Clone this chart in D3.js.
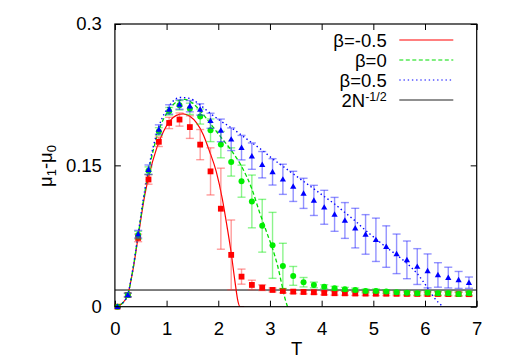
<!DOCTYPE html>
<html><head><meta charset="utf-8">
<script src="https://cdn.jsdelivr.net/npm/d3@7"></script>
<style>
html,body{margin:0;padding:0;background:#fff;}
text{font-family:"Liberation Sans",Arial,sans-serif;}
</style></head>
<body>
<svg id="chart" width="507" height="363"></svg>
<script>
// ---- data ----
const temps = [0.05,0.25,0.45,0.65,0.85,1.05,1.25,1.45,1.65,1.85,2.05,2.25,2.45,2.65,2.85,3.05,3.25,3.45,3.65,3.85,4.05,4.25,4.45,4.65,4.85,5.05,5.25,5.45,5.65,5.85,6.05,6.25,6.45,6.65,6.85];

const redVals = [0,0.0124,0.073,0.135,0.175,0.195,0.1986,0.1906,0.172,0.1436,0.104,0.055,0.0319,0.0231,0.0202,0.0178,0.0167,0.016,0.0156,0.0153,0.0146,0.0143,0.0142,0.0140,0.0139,0.0138,0.0138,0.0137,0.0136,0.0136,0.0135,0.0135,0.0134,0.0134,0.0133];
const redErr = [0,0.002,0.004,0.005,0.005,0.006,0.007,0.012,0.016,0.025,0.043,0.037,0.008,0.005,0.003,0.002,0.002,0.002,0.002,0.002,0.002,0.002,0.002,0.002,0.002,0.002,0.002,0.002,0.002,0.002,0.002,0.002,0.002,0.002,0.002];

const greenVals = [0,0.0124,0.076,0.1444,0.186,0.2074,0.2138,0.210,0.2018,0.1872,0.172,0.1536,0.1332,0.1117,0.0859,0.0651,0.0433,0.0327,0.026,0.0231,0.0213,0.0196,0.0185,0.0178,0.0167,0.0167,0.016,0.0153,0.0149,0.0143,0.0149,0.0143,0.0143,0.0135,0.0143];
const greenErr = [0,0.002,0.004,0.004,0.004,0.004,0.005,0.006,0.008,0.012,0.014,0.015,0.017,0.028,0.028,0.035,0.024,0.010,0.005,0.003,0.002,0.002,0.002,0.002,0.002,0.002,0.002,0.002,0.002,0.002,0.002,0.002,0.002,0.002,0.002];

const blueVals = [0,0.0124,0.077,0.1454,0.188,0.2093,0.2146,0.2128,0.2093,0.1973,0.1871,0.1777,0.1688,0.1598,0.1507,0.1431,0.1352,0.1277,0.1203,0.1128,0.1055,0.098,0.0915,0.0834,0.0767,0.071,0.0638,0.0561,0.0497,0.0426,0.038,0.0337,0.0309,0.0284,0.0255];
const blueErr = [0,0.002,0.004,0.005,0.005,0.005,0.005,0.006,0.006,0.008,0.012,0.012,0.013,0.014,0.014,0.014,0.016,0.016,0.016,0.016,0.018,0.018,0.019,0.021,0.021,0.023,0.022,0.021,0.020,0.019,0.018,0.013,0.011,0.009,0.006];

// fitted curves
const redFitT = [0,0.1,0.15,0.25,0.35,0.45,0.58,0.65,0.81,0.94,1.06,1.19,1.32,1.45,1.58,1.71,1.83,1.96,2.08,2.17,2.25,2.32,2.38,2.42,2.5];
const redFitV = [0,0.002,0.004,0.013,0.039,0.074,0.119,0.137,0.1685,0.186,0.197,0.203,0.2046,0.202,0.195,0.1826,0.165,0.1436,0.114,0.085,0.057,0.028,0.006,0,0];

const greenFitT = [0,0.1,0.15,0.25,0.35,0.45,0.55,0.65,0.85,1.05,1.25,1.35,1.45,1.65,1.85,2.05,2.25,2.45,2.65,2.8,2.93,3.06,3.15,3.22,3.28,3.34];
const greenFitV = [0,0.002,0.004,0.013,0.040,0.076,0.112,0.143,0.187,0.209,0.219,0.220,0.218,0.208,0.194,0.180,0.166,0.149,0.125,0.100,0.080,0.060,0.043,0.026,0.011,0];

const blueFitT = [0,0.1,0.15,0.25,0.35,0.45,0.55,0.65,0.85,1.05,1.25,1.45,1.65,1.85,2.05,2.25,2.45,2.65,2.85,3.05,3.25,3.45,3.65,3.85,4.05,4.25,4.45,4.65,4.85,5.05,5.25,5.45,5.65,5.85,6.05,6.2,6.35];
const blueFitV = [0,0.002,0.004,0.013,0.041,0.077,0.114,0.146,0.191,0.213,0.222,0.221,0.214,0.205,0.197,0.190,0.182,0.174,0.166,0.157,0.149,0.141,0.133,0.125,0.117,0.109,0.100,0.091,0.081,0.072,0.063,0.055,0.046,0.035,0.020,0.008,0];

const limitValue = 0.0177; // 2N^-1/2

const xTicks = [0,1,2,3,4,5,6,7];
const yTicks = [0,0.15,0.3];
const legendLabels = ["β=-0.5","β=0","β=0.5","2N"];

// ---- layout ----
const svg = d3.select("#chart");
const L = 114.9, R = 476.7, T0 = 24, B = 306.7;
const x = d3.scaleLinear().domain([0,7]).range([L,R]);
const y = d3.scaleLinear().domain([0,0.3]).range([B,T0]);

svg.append("defs").append("clipPath").attr("id","clip")
  .append("rect").attr("x",L).attr("y",T0).attr("width",R-L).attr("height",B-T0);

const fontSize = 18.5;
// axes
const gx = svg.append("g").attr("transform",`translate(0,${B})`)
  .call(d3.axisBottom(x).tickValues(xTicks).tickSize(-6).tickPadding(15).tickFormat(d3.format("d")));
const gxt = svg.append("g").attr("transform",`translate(0,${T0})`)
  .call(d3.axisTop(x).tickValues(xTicks).tickSize(-6).tickFormat(""));
const gy = svg.append("g").attr("transform",`translate(${L},0)`)
  .call(d3.axisLeft(y).tickValues(yTicks).tickSize(-6).tickPadding(13).tickFormat(d => d===0?"0":String(d)));
const gyr = svg.append("g").attr("transform",`translate(${R},0)`)
  .call(d3.axisRight(y).tickValues(yTicks).tickSize(-6).tickFormat(""));
[gx,gxt,gy,gyr].forEach(g=>{
  g.select(".domain").remove();
  g.selectAll(".tick line").attr("stroke","#000").attr("stroke-width",1);
  g.selectAll("text").attr("font-size",fontSize).attr("fill","#000").style("font-family","'Liberation Sans',Arial,sans-serif");
});

const plot = svg.append("g").attr("clip-path","url(#clip)");

// horizontal line 2N^-1/2
plot.append("line").attr("x1",L).attr("x2",R).attr("y1",y(limitValue)).attr("y2",y(limitValue))
  .attr("stroke","#000").attr("stroke-width",1);

function drawSeries(vals, errs, color, barColor, shape){
  const g = svg.append("g");
  temps.forEach((t,i)=>{
    const cx = x(t), v = vals[i], e = errs[i];
    if (e > 0) {
      const y1 = y(v+e), y2 = y(v-e);
      g.append("line").attr("x1",cx).attr("x2",cx).attr("y1",y1).attr("y2",y2)
        .attr("stroke",barColor).attr("stroke-width",1.4);
      [y1,y2].forEach(yy=> g.append("line").attr("x1",cx-4).attr("x2",cx+4).attr("y1",yy).attr("y2",yy)
        .attr("stroke",barColor).attr("stroke-width",1.4));
    }
  });
  temps.forEach((t,i)=>{
    const cx = x(t), cy = y(vals[i]);
    if (shape==="square") g.append("rect").attr("x",cx-2.9).attr("y",cy-2.9).attr("width",5.8).attr("height",5.8).attr("fill",color);
    else if (shape==="circle") g.append("circle").attr("cx",cx).attr("cy",cy).attr("r",3).attr("fill",color);
    else g.append("path").attr("d",d3.symbol(d3.symbolTriangle,17)()).attr("transform",`translate(${cx},${cy+0.5})`).attr("fill",color);
  });
}

const line = d3.line().x(d=>x(d[0])).y(d=>y(d[1])).curve(d3.curveMonotoneX);

drawSeries(redVals, redErr, "#ff0000", "rgba(255,60,60,0.5)", "square");
plot.append("path").attr("d", line(redFitT.map((t,i)=>[t,redFitV[i]])))
  .attr("fill","none").attr("stroke","#ff0000").attr("stroke-width",1.2);

drawSeries(greenVals, greenErr, "#00ee00", "rgba(0,230,0,0.45)", "circle");
plot.append("path").attr("d", line(greenFitT.map((t,i)=>[t,greenFitV[i]])))
  .attr("fill","none").attr("stroke","#00dd00").attr("stroke-width",1.3).attr("stroke-dasharray","4,2.5");

drawSeries(blueVals, blueErr, "#0000ff", "rgba(40,40,255,0.5)", "triangle");
plot.append("path").attr("d", line(blueFitT.map((t,i)=>[t,blueFitV[i]])))
  .attr("fill","none").attr("stroke","#0000ff").attr("stroke-width",1.4).attr("stroke-dasharray","1.4,2.8");

// frame
svg.append("rect").attr("x",L).attr("y",T0).attr("width",R-L).attr("height",B-T0)
  .attr("fill","none").attr("stroke","#000").attr("stroke-width",1.2);

// legend
const legColors = ["#ff0000","#00dd00","#0000ff","#222"];
const legDash = [null,"4,2.5","1.4,2.8",null];
const legend = svg.append("g");
legendLabels.forEach((lab,i)=>{
  const yy = 40 + i*20;
  const tx = legend.append("text").attr("x",386.7).attr("y",yy+6.5).attr("text-anchor","end")
    .attr("font-size",fontSize).attr("fill","#000");
  if (i===3) {
    tx.append("tspan").text(lab);
    tx.append("tspan").attr("font-size",12.5).attr("dy",-6).text("-1/2");
  } else tx.text(lab);
  const ln = legend.append("line").attr("x1",399.3).attr("x2",453.3).attr("y1",yy).attr("y2",yy)
    .attr("stroke",legColors[i]).attr("stroke-width",1.2);
  if (legDash[i]) ln.attr("stroke-dasharray",legDash[i]);
});

// axis titles
svg.append("text").attr("x",296.7).attr("y",355).attr("text-anchor","middle")
  .attr("font-size",fontSize).text("T");
const yl = svg.append("text").attr("transform","translate(52,166) rotate(-90)")
  .attr("text-anchor","middle").attr("font-size",fontSize);
yl.append("tspan").text("μ");
yl.append("tspan").attr("font-size",13).attr("dy",4).text("1");
yl.append("tspan").attr("dy",-4).text("-μ");
yl.append("tspan").attr("font-size",13).attr("dy",4).text("0");
</script>
</body></html>
